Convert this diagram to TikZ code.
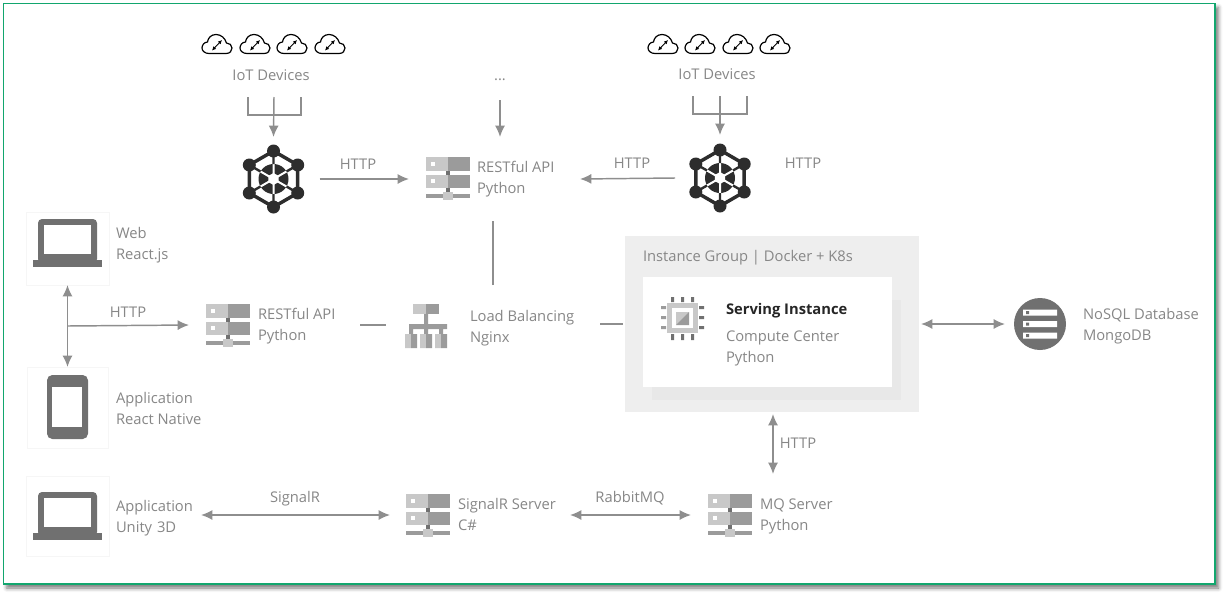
\documentclass[tikz,border=0pt]{standalone}
\usepackage{fontspec}
\setmainfont{Open Sans}
\usetikzlibrary{arrows.meta}
\usetikzlibrary{calc}
\usetikzlibrary{shadows.blur}

\definecolor{flowgray}{RGB}{142,142,142}
\definecolor{textgray}{RGB}{135,135,135}
\definecolor{icondark}{RGB}{112,112,112}
\definecolor{iconlight}{RGB}{200,200,200}
\definecolor{iconmid}{RGB}{155,155,155}
\definecolor{hubdark}{RGB}{45,45,45}
\definecolor{framegreen}{RGB}{18,166,110}
\definecolor{groupfill}{RGB}{238,238,238}
\definecolor{groupshade}{RGB}{232,232,232}
\definecolor{cardline}{RGB}{246,246,246}

\tikzset{
  every pic/.style={yscale=-1},
  spot/.style 2 args={inner sep=0pt,outer sep=0pt,minimum width=#1*0.75pt,minimum height=#2*0.75pt},
  lbl/.style={inner sep=0pt,outer sep=0pt,text=textgray,font=\fontsize{11.05pt}{15.75pt}\selectfont,align=left},
  flow/.style={draw=flowgray,line width=1.1pt,-{Latex[length=8.5pt,width=7.5pt]}},
  flowboth/.style={draw=flowgray,line width=1.1pt,{Latex[length=8.5pt,width=7.5pt]}-{Latex[length=8.5pt,width=7.5pt]}},
  flowplain/.style={draw=flowgray,line width=1.1pt},
  card/.style={draw=cardline,fill=white,line width=0.75pt},
  servericon/.pic={
    \fill[icondark] (-2,-8) rectangle (2,18);
    \fill[iconlight] (-22,-21) rectangle (0,-7);
    \fill[iconmid] (0,-21) rectangle (22,-7);
    \fill[iconlight] (-22,-3) rectangle (0,10);
    \fill[iconmid] (0,-3) rectangle (22,10);
    \fill[white] (-17,-16) rectangle (-13,-12);
    \fill[white] (-17,1) rectangle (-13,5);
    \fill[iconmid] (-22,16) rectangle (22,20);
    \fill[iconlight] (-5,14) rectangle (5,22);
  },
  laptopicon/.pic={
    \fill[icondark,rounded corners=3pt] (-29.5,-24) rectangle (29.5,20);
    \fill[icondark] (-34.5,17) rectangle (34.5,24);
    \fill[white] (-23.5,-18) rectangle (23.5,11);
  },
  cloudicon/.pic={
    \draw[black,line width=0.9pt] (-8,9.5) -- (9,9.5) .. controls (13,9.5) and (15,7) .. (15,4) .. controls (15,1) and (12.5,-1) .. (9.5,-1) .. controls (8,-6) and (4,-9.5) .. (-1,-9.5) .. controls (-6,-9.5) and (-9,-6) .. (-9.5,-2) .. controls (-13,-2) and (-15,1.5) .. (-15,4) .. controls (-15,7) and (-12,9.5) .. (-8,9.5) -- cycle;
    \draw[black,line width=0.7pt,{Latex[length=3pt,width=3pt]}-{Latex[length=3pt,width=3pt]}] (-5,6.5) -- (5,-4);
  },
  hubicon/.pic={
    %hexagon and spokes
    \draw[hubdark,line width=2.6pt] (0,-28) -- (24.2,-14) -- (24.2,14) -- (0,28) -- (-24.2,14) -- (-24.2,-14) -- cycle;
    \fill[hubdark] (0,0) circle [radius=15];
    \draw[white,line width=1.5pt] (0,-17) -- (0,17) (-14.7,-8.5) -- (14.7,8.5) (-14.7,8.5) -- (14.7,-8.5);
    \fill[white] (0,-6) -- (5.2,-3) -- (5.2,3) -- (0,6) -- (-5.2,3) -- (-5.2,-3) -- cycle;
    \draw[hubdark,line width=1.8pt] (0,-28) -- (0,-15) (24.2,-14) -- (13,-7.5) (24.2,14) -- (13,7.5) (0,28) -- (0,15) (-24.2,14) -- (-13,7.5) (-24.2,-14) -- (-13,-7.5);
    \fill[hubdark] (0,-28) circle [radius=6.5] (24.2,-14) circle [radius=6.5] (24.2,14) circle [radius=6.5] (0,28) circle [radius=6.5] (-24.2,14) circle [radius=6.5] (-24.2,-14) circle [radius=6.5];
  },
}

\begin{document}
\begin{tikzpicture}[x=0.75pt,y=0.75pt,yscale=-1,xscale=1]
    \useasboundingbox (0,0) rectangle (1224,593);

    %Frame
    \draw [draw=framegreen,line width=1.1pt,fill=white,blur shadow={shadow xshift=2.5pt,shadow yshift=-3pt,shadow blur radius=3pt,shadow opacity=55}] (3.5,3.5) rectangle (1215,584);

    %Instance group
    \node [spot={294}{176},fill=groupfill,outer sep=1.5pt] (group) at (772,324) {};
    \fill [groupshade] (652,300) rectangle (901,400);
    \node [spot={249}{110},fill=white] (servingCard) at (767.5,332) {};

    %Client cards
    \node [spot={83}{73},card] (web) at (67.5,248.5) {};
    \node [spot={81}{81},card] (phone) at (67.5,407.5) {};
    \node [spot={83}{80},card] (unityCard) at (67.5,516) {};

    %Places of the services
    \node [spot={92}{84}] (hubA) at (273.5,179) {};
    \node [spot={90}{86}] (hubB) at (720,178) {};
    \node [spot={171}{84}] (apiA) at (494.5,179) {};
    \node [spot={171}{60}] (apiB) at (274.5,325) {};
    \node [spot={214}{80}] (balancer) at (493,325) {};
    \node [spot={180}{60}] (signalServer) at (480,515) {};
    \node [spot={164}{82}] (mqServer) at (773,515) {};
    \node [spot={70}{60}] (database) at (1040,324) {};
    \coordinate (stemA) at (274,97);
    \coordinate (stemB) at (720,96);
    \coordinate (branchHttp) at ($(web.south)!0.5!(phone.north)$);

    %Icons
    \path (217,44) pic {cloudicon} (255,44) pic {cloudicon} (292,44) pic {cloudicon} (330,44) pic {cloudicon};
    \path (663,44) pic {cloudicon} (700,44) pic {cloudicon} (738,44) pic {cloudicon} (775,44) pic {cloudicon};
    \path (hubA) pic {hubicon} (hubB) pic {hubicon};
    \path (448,178) pic {servericon} (228,325) pic {servericon} (428,515) pic {servericon} (730,515) pic {servericon};
    \path (67.5,243) pic {laptopicon} (67.5,516) pic {laptopicon};

    %Phone
    \fill [icondark,rounded corners=4pt] (47,375) rectangle (88,439);
    \fill [white] (52,387) rectangle (82,427);

    %Load balancer
    \fill [iconmid] (424,314) rectangle (428,325) (409,324) rectangle (447,329) (409,324) rectangle (413,335) (424,324) rectangle (428,335) (439,324) rectangle (443,335);
    \fill [iconlight] (413,304) rectangle (426,314);
    \fill [iconmid] (426,304) rectangle (439,314);
    \fill [iconlight] (405,334) rectangle (411,348) (420,334) rectangle (426,348) (435,334) rectangle (441,348);
    \fill [iconmid] (411,334) rectangle (417,348) (426,334) rectangle (432,348) (441,334) rectangle (447,348);

    %Chip
    \fill [iconlight] (667,303) rectangle (698,333);
    \fill [white] (672,308) rectangle (693,328);
    \fill [iconlight] (676,312) rectangle (689,325);
    \fill [iconmid] (689,312) -- (689,325) -- (676,325) -- cycle;
    \fill [icondark] (671,297) rectangle (674,302) (681,297) rectangle (684,302) (691,297) rectangle (694,302) (671,334) rectangle (674,340) (681,334) rectangle (684,340) (691,334) rectangle (694,340);
    \fill [iconmid] (661,306) rectangle (666,309) (661,316) rectangle (666,319) (661,326) rectangle (666,329);
    \fill [icondark] (699,306) rectangle (704,309) (699,316) rectangle (704,319) (699,326) rectangle (704,329);

    %Database
    \fill [icondark] (1040,324) circle [radius=26];
    \fill [white] (1023,309.5) rectangle (1057,315.5) (1023,321) rectangle (1057,327) (1023,332.5) rectangle (1057,338.5);
    \fill [icondark] (1026,311) rectangle (1029,314) (1026,322.5) rectangle (1029,325.5) (1026,334) rectangle (1029,337);

    %Brackets
    \draw [flowplain] (248,97) -- (248,115) -- (301,115) -- (301,97);
    \draw [flowplain] (693,96) -- (693,114) -- (747,114) -- (747,96);

    % Text Node
    \node [lbl,anchor=center] (devicesA) at (271,75) {IoT Devices};
    % Text Node
    \node [lbl,anchor=center] (devicesB) at (717,74) {IoT Devices};
    % Text Node
    \node [lbl,anchor=center,minimum height=30] (moreDevices) at (500,80) {...};
    % Text Node
    \node [lbl,anchor=west] (textApiA) at (477,179) {RESTful API\\Python};
    % Text Node
    \node [lbl,anchor=west] (textApiB) at (258,326) {RESTful API\\Python};
    % Text Node
    \node [lbl,anchor=west] (textBalancer) at (470,328) {Load Balancing\\Nginx};
    % Text Node
    \node [lbl,anchor=west] (textWeb) at (116,245) {Web\\React.js};
    % Text Node
    \node [lbl,anchor=west] (textPhone) at (116,408) {Application\\React Native};
    % Text Node
    \node [lbl,anchor=west,text width=63.75pt] (textUnity) at (116,518) {Application\\Unity 3D};
    % Text Node
    \node [lbl,anchor=west] (textSignal) at (458,514) {SignalR Server\\C\#};
    % Text Node
    \node [lbl,anchor=west] (textMq) at (760,516) {MQ Server\\Python};
    % Text Node
    \node [lbl,anchor=west] (textDatabase) at (1083,326) {NoSQL Database\\MongoDB};
    % Text Node
    \node [lbl,anchor=west] (groupTitle) at (643,257.5) {Instance Group | Docker + K8s};
    % Text Node
    \node [lbl,anchor=west,text=black!85,font=\fontsize{11.05pt}{15.75pt}\selectfont\bfseries] (servingTitle) at (726,311) {Serving Instance};
    % Text Node
    \node [lbl,anchor=west] (servingText) at (726,348) {Compute Center\\Python};
    % Text Node
    \node [lbl] (httpA) at (358,164) {HTTP};
    % Text Node
    \node [lbl] (httpB) at (632,163) {HTTP};
    % Text Node
    \node [lbl] (httpC) at (803,163) {HTTP};
    % Text Node
    \node [lbl] (httpD) at (128,312) {HTTP};
    % Text Node
    \node [lbl] (httpE) at (798,443) {HTTP};
    % Text Node
    \node [lbl] (signalLabel) at (295,499) {SignalR};
    % Text Node
    \node [lbl] (rabbitLabel) at (630,498) {RabbitMQ};

    %Straight Lines
    \draw [flow] (stemA) -- (hubA.north);
    \draw [flow] (stemB) -- (hubB.north);
    \draw [flow] (moreDevices) -- (moreDevices |- apiA.north);
    \draw [flow] (hubA.east) -- (apiA.west);
    \draw [flow] (hubB.west) -- (apiA.east);
    \draw [flowplain] (balancer.north) -- (balancer.north |- apiA.south);
    \draw [flowboth] (web.south) -- (phone.north);
    \draw [flow] (branchHttp) -- (apiB.west);
    \draw [flowplain] (apiB.east) -- (balancer.west);
    \draw [flowplain] (balancer.east |- group.west) -- (group.west);
    \draw [flowboth] (group.east) -- (database.west);
    \draw [flowboth] (mqServer.north) -- (mqServer.north |- group.south);
    \draw [flowboth] (textUnity.east |- signalServer.west) -- (signalServer.west);
    \draw [flowboth] (signalServer.east) -- (mqServer.west);
\end{tikzpicture}
\end{document}
